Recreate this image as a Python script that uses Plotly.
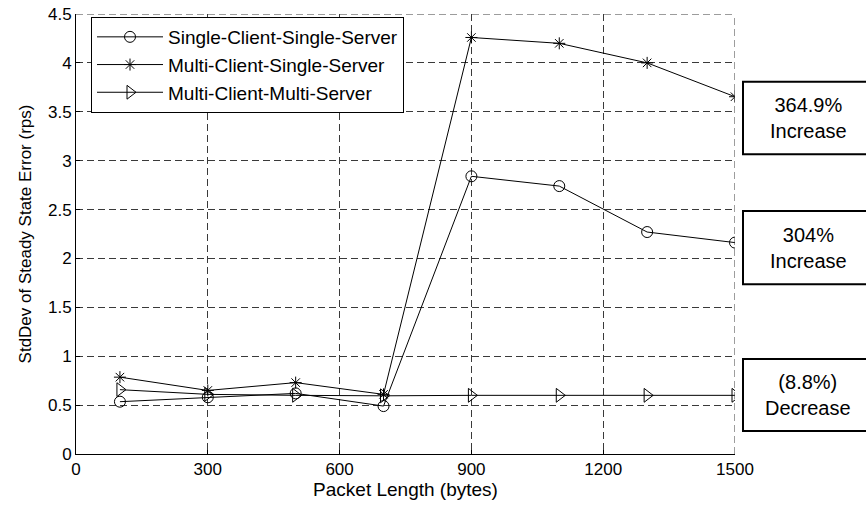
import plotly.graph_objects as go

# Packet lengths (bytes)
packet_length = [100, 300, 500, 700, 900, 1100, 1300, 1500]

# Standard deviation of steady-state error (rps) per configuration
single_client_single_server = [0.535, 0.58, 0.62, 0.49, 2.84, 2.74, 2.27, 2.162]
multi_client_single_server = [0.786, 0.65, 0.73, 0.61, 4.26, 4.20, 4.00, 3.654]
multi_client_multi_server = [0.658, 0.61, 0.60, 0.595, 0.60, 0.60, 0.60, 0.600]

series_names = [
    "Single-Client-Single-Server",
    "Multi-Client-Single-Server",
    "Multi-Client-Multi-Server",
]
series_symbols = ["circle-open", "asterisk-open", "triangle-right-open"]
series_sizes = [11, 10, 12]

# Change from the shortest to the longest packet, one box per series
change_labels = ["364.9%<br>Increase", "304%<br>Increase", "(8.8%)<br>Decrease"]
change_box_top = [81.7, 211.0, 359.0]      # px from top of page
change_box_bottom = [154.3, 284.3, 431.0]

x_ticks = [0, 300, 600, 900, 1200, 1500]
x_range = [0, 1500]
y_range = [0, 4.5]

W, H = 866, 508
M_L, M_R, M_T, M_B = 76, 131, 14, 54
PW, PH = W - M_L - M_R, H - M_T - M_B

FONT = "Liberation Sans, Arial, sans-serif"
GRID_COLOR = "#3a3a3a"
GRID_DASH = "7px,4px"


def px_to_paper_x(px):
    return (px - M_L) / PW


def px_to_paper_y(py):
    return (H - M_B - py) / PH


fig = go.Figure()
for name, ys, sym, sz in zip(
    series_names,
    [single_client_single_server, multi_client_single_server, multi_client_multi_server],
    series_symbols,
    series_sizes,
):
    fig.add_trace(
        go.Scatter(
            x=packet_length,
            y=ys,
            name=name,
            mode="lines+markers",
            line=dict(color="black", width=1),
            marker=dict(symbol=sym, size=sz, color="black", line=dict(color="black", width=1)),
        )
    )

grid_style = dict(
    showgrid=True,
    gridcolor=GRID_COLOR,
    gridwidth=1,
    griddash=GRID_DASH,
    zeroline=False,
    showline=True,
    linecolor="black",
    linewidth=1,
    mirror=False,
    ticks="inside",
    ticklen=4,
    tickcolor="black",
    tickfont=dict(family=FONT, size=17, color="black"),
)

fig.update_xaxes(
    range=x_range,
    tickvals=x_ticks,
    title=dict(text="Packet Length (bytes)", font=dict(family=FONT, size=19, color="black"), standoff=4),
    **grid_style,
)
fig.update_yaxes(
    range=y_range,
    dtick=0.5,
    tick0=0,
    title=dict(text="StdDev of Steady State Error (rps)", font=dict(family=FONT, size=17, color="black"), standoff=12),
    **grid_style,
)

# Dashed grid lines along the top and right edges of the axes box
fig.add_shape(type="line", xref="x", yref="y", x0=x_range[0], x1=x_range[1], y0=y_range[1], y1=y_range[1],
              line=dict(color=GRID_COLOR, width=1, dash=GRID_DASH))
fig.add_shape(type="line", xref="x", yref="y", x0=x_range[1], x1=x_range[1], y0=y_range[0], y1=y_range[1],
              line=dict(color=GRID_COLOR, width=1, dash=GRID_DASH))

# Boxed change annotations to the right of the plot; the boxes run off the
# right edge of the page, so only their top, left and bottom sides are drawn
box_left = 743
box_right = 900
box_text_center = 808
for label, top, bottom in zip(change_labels, change_box_top, change_box_bottom):
    xl, xr = px_to_paper_x(box_left), px_to_paper_x(box_right)
    yt, yb = px_to_paper_y(top), px_to_paper_y(bottom)
    fig.add_shape(
        type="path",
        xref="paper",
        yref="paper",
        path=f"M {xr} {yt} L {xl} {yt} L {xl} {yb} L {xr} {yb}",
        line=dict(color="black", width=2),
        layer="above",
    )
    fig.add_annotation(
        text=label,
        xref="paper",
        yref="paper",
        x=px_to_paper_x(box_text_center),
        y=px_to_paper_y((top + bottom) / 2),
        xanchor="center",
        yanchor="middle",
        showarrow=False,
        align="center",
        font=dict(family=FONT, size=20, color="black"),
    )

fig.update_layout(
    width=W,
    height=H,
    margin=dict(l=M_L, r=M_R, t=M_T, b=M_B, autoexpand=False),
    paper_bgcolor="white",
    plot_bgcolor="white",
    font=dict(family=FONT, color="black"),
    showlegend=True,
    legend=dict(
        x=px_to_paper_x(91),
        y=px_to_paper_y(17),
        xanchor="left",
        yanchor="top",
        bgcolor="white",
        bordercolor="black",
        borderwidth=1,
        itemwidth=66,
        font=dict(family=FONT, size=19, color="black"),
        tracegroupgap=0,
    ),
)

fig.write_html("out.html")
